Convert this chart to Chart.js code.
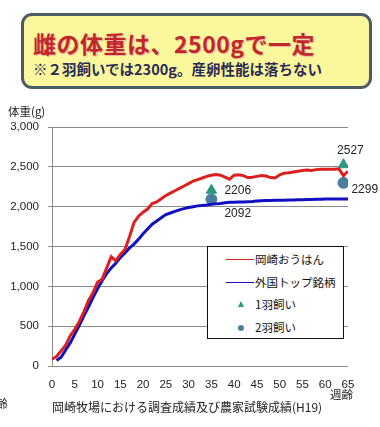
<!DOCTYPE html>
<html>
<head>
<meta charset="utf-8">
<script src="https://cdn.jsdelivr.net/npm/chart.js@4/dist/chart.umd.min.js"></script>
<style>
  body { margin: 0; background: #fff; }
  #wrap { position: relative; width: 380px; height: 427px; overflow: hidden; font-family: "Liberation Sans", "Noto Sans CJK JP", sans-serif; }
  #chart { position: absolute; left: 0; top: 0; }
  .t { position: absolute; white-space: nowrap; font-family: "Noto Sans CJK JP", sans-serif; color: #222; }
  #titlebox { position: absolute; left: 21px; top: 13px; width: 345px; height: 70px; border: 3px solid #4d5b66; border-radius: 11px; background: #fbf79c; }
  #legend { position: absolute; left: 207px; top: 246px; width: 135px; height: 91px; border: 1px solid #111; background: #fff; }
  .row { position: absolute; left: 0; height: 20px; width: 135px; font: 11.5px "Noto Sans CJK JP", sans-serif; color: #111; }
  .row span.txt { position: absolute; left: 47px; top: 1px; }
</style>
</head>
<body>
<div id="wrap">
  <div id="titlebox">
    <div class="t" style="left:9px; top:10px; font-size:23px; font-weight:bold; color:#c0282c; text-shadow:1px 1px 1px #e7b0a0; letter-spacing:0.5px;">雌の体重は、2500gで一定</div>
    <div class="t" style="left:9px; top:42px; font-size:14.5px; font-weight:bold; color:#2b2b55;">※２羽飼いでは2300g。産卵性能は落ちない</div>
  </div>
  <canvas id="chart" width="380" height="427"></canvas>
  <div class="t" style="left:8px; top:103px; font-size:11.5px;">体重(g)</div>
  <div class="t" style="left:330px; top:386px; font-size:11.5px;">週齢</div>
  <div class="t" style="left:-4px; top:395px; font-size:11.5px;">齢</div>
  <div class="t" style="left:52px; top:398px; font-size:12px;">岡崎牧場における調査成績及び農家試験成績(H19)</div>
  <div id="legend"></div>
</div>
<script>
// 週齢
var weeks = [];
for (var w = 0; w <= 65; w++) weeks.push(w);

// 岡崎おうはん (0〜65週)
var okazaki = [85, 120, 190, 260, 380, 460, 560, 680, 820, 920,
  1050, 1090, 1230, 1370, 1320, 1400, 1460, 1620, 1800, 1880,
  1930, 1970, 2040, 2060, 2100, 2140, 2170, 2200, 2230, 2260,
  2290, 2320, 2340, 2360, 2380, 2395, 2405, 2395, 2370, 2345,
  2395, 2400, 2390, 2365, 2370, 2380, 2390, 2385, 2365, 2360,
  2400, 2420, 2425, 2435, 2445, 2455, 2460, 2455, 2465, 2470,
  2470, 2470, 2470, 2475, 2390, 2445];

// 外国トップ銘柄 (1〜65週)
var foreign = [null, 70, 110, 200, 290, 400, 510, 630, 740, 860,
  970, 1070, 1160, 1230, 1290, 1360, 1420, 1480, 1530, 1590,
  1660, 1720, 1780, 1820, 1860, 1900, 1920, 1940, 1960, 1975,
  1990, 2000, 2010, 2015, 2020, 2030, 2035, 2040, 2050, 2055,
  2055, 2058, 2060, 2062, 2065, 2072, 2075, 2076, 2078, 2080,
  2080, 2082, 2083, 2085, 2086, 2088, 2090, 2091, 2092, 2094,
  2095, 2096, 2096, 2096, 2097, 2097];

// 1羽飼い / 2羽飼い
var sampleWeeks = [35, 64];
var single = [2206, 2527];
var pair = [2092, 2299];

var yTicks = [0, 500, 1000, 1500, 2000, 2500, 3000];

function pts(xs, ys) {
  return xs.map(function (x, i) { return { x: x, y: ys[i] }; });
}

// 値ラベル（位置はマーカー基準）
var valueLabels = {
  id: 'valueLabels',
  afterDatasetsDraw: function (chart) {
    var ctx = chart.ctx;
    ctx.save();
    ctx.font = '12px "Liberation Sans", sans-serif';
    ctx.fillStyle = '#222';
    ctx.textBaseline = 'middle';
    var offs = {
      2: [[13, 0, 'left'], [7, -14, 'center']],
      3: [[13, 14, 'left'], [8, 7, 'left']]
    };
    [2, 3].forEach(function (di) {
      var meta = chart.getDatasetMeta(di);
      meta.data.forEach(function (el, i) {
        var o = offs[di][i];
        ctx.textAlign = o[2];
        ctx.fillText(String(chart.data.datasets[di].data[i].y), el.x + o[0], el.y + o[1]);
      });
    });
    ctx.restore();
  }
};

var ctx = document.getElementById('chart').getContext('2d');
var chart = new Chart(ctx, {
  type: 'line',
  data: {
    datasets: [{
      label: '岡崎おうはん',
      data: pts(weeks, okazaki),
      borderColor: '#dc1f1f',
      borderWidth: 3,
      pointRadius: 0,
      tension: 0
    }, {
      label: '外国トップ銘柄',
      data: pts(weeks, foreign),
      borderColor: '#1010c0',
      borderWidth: 3,
      pointRadius: 0,
      tension: 0
    }, {
      label: '1羽飼い',
      data: pts(sampleWeeks, single),
      showLine: false,
      pointStyle: 'triangle',
      pointRadius: 6,
      backgroundColor: '#2a9a7c',
      borderColor: '#2a9a7c'
    }, {
      label: '2羽飼い',
      data: pts(sampleWeeks, pair),
      showLine: false,
      pointStyle: 'circle',
      pointRadius: 5.5,
      backgroundColor: '#4a7ea0',
      borderColor: '#4a7ea0'
    }]
  },
  options: {
    responsive: false,
    animation: false,
    layout: { padding: { top: 127, right: 32, left: 0, bottom: 0 } },
    plugins: { legend: { display: false }, tooltip: { enabled: false } },
    scales: {
      x: {
        type: 'linear',
        min: 0,
        max: 65,
        afterFit: function (s) { s.height = 61; },
        grid: { display: false, drawTicks: false },
        border: { display: false },
        ticks: { stepSize: 5, padding: 12, color: '#222', font: { family: 'Liberation Sans', size: 11.5 } }
      },
      y: {
        min: 0,
        max: 3000,
        afterFit: function (s) { s.width = 52; },
        afterBuildTicks: function (s) { s.ticks = yTicks.map(function (v) { return { value: v }; }); },
        grid: { color: '#8a8a8a', tickLength: 4 },
        border: { color: '#8a8a8a' },
        ticks: {
          padding: 9,
          color: '#222',
          font: { family: 'Liberation Sans', size: 11.5 },
          callback: function (v) { return v.toLocaleString('en-US'); }
        }
      }
    }
  },
  plugins: [valueLabels]
});

// 凡例（HTML）
var legend = document.getElementById('legend');
var rowTops = [3, 26, 48, 71];
chart.data.datasets.forEach(function (ds, i) {
  var row = document.createElement('div');
  row.className = 'row';
  row.style.top = rowTops[i] + 'px';
  var mark = document.createElement('span');
  mark.style.position = 'absolute';
  if (ds.showLine === false) {
    if (ds.pointStyle === 'triangle') {
      mark.style.left = '30px'; mark.style.top = '6px';
      mark.style.borderLeft = '3px solid transparent';
      mark.style.borderRight = '3px solid transparent';
      mark.style.borderBottom = '6px solid ' + ds.backgroundColor;
    } else {
      mark.style.left = '30px'; mark.style.top = '7px';
      mark.style.width = '6px'; mark.style.height = '6px';
      mark.style.borderRadius = '50%';
      mark.style.background = ds.backgroundColor;
    }
  } else {
    mark.style.left = '18px'; mark.style.top = '9px';
    mark.style.width = '28px'; mark.style.height = '0';
    mark.style.borderTop = '1px solid ' + ds.borderColor;
  }
  var txt = document.createElement('span');
  txt.className = 'txt';
  txt.textContent = ds.label;
  row.appendChild(mark);
  row.appendChild(txt);
  legend.appendChild(row);
});
</script>
</body>
</html>
